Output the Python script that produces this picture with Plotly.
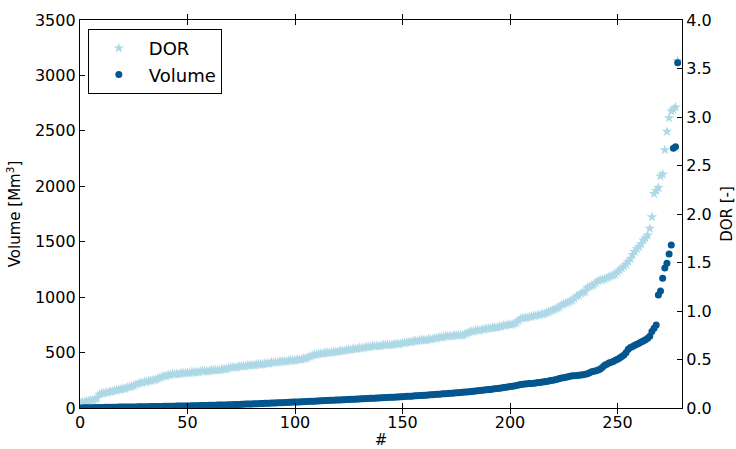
import plotly.graph_objects as go

dor = [
    0.05, 0.06, 0.06, 0.07, 0.07, 0.08, 0.08, 0.09, 0.10, 0.14,
    0.15, 0.15, 0.16, 0.16, 0.17, 0.17, 0.18, 0.18, 0.19, 0.19,
    0.20, 0.20, 0.21, 0.22, 0.22, 0.23, 0.24, 0.25, 0.26, 0.26,
    0.27, 0.27, 0.28, 0.28, 0.29, 0.29, 0.30, 0.31, 0.32, 0.33,
    0.33, 0.34, 0.34, 0.35, 0.35, 0.35, 0.35, 0.36, 0.36, 0.36,
    0.36, 0.36, 0.37, 0.37, 0.37, 0.37, 0.38, 0.38, 0.38, 0.38,
    0.38, 0.39, 0.39, 0.39, 0.39, 0.39, 0.40, 0.40, 0.40, 0.41,
    0.42, 0.42, 0.42, 0.42, 0.43, 0.43, 0.43, 0.43, 0.44, 0.44,
    0.44, 0.44, 0.45, 0.45, 0.45, 0.45, 0.46, 0.46, 0.46, 0.47,
    0.47, 0.47, 0.47, 0.48, 0.48, 0.48, 0.48, 0.49, 0.49, 0.49,
    0.49, 0.50, 0.50, 0.50, 0.51, 0.51, 0.52, 0.53, 0.54, 0.55,
    0.55, 0.56, 0.56, 0.56, 0.57, 0.57, 0.57, 0.57, 0.58, 0.58,
    0.58, 0.59, 0.59, 0.59, 0.60, 0.60, 0.60, 0.61, 0.61, 0.61,
    0.62, 0.62, 0.62, 0.63, 0.63, 0.63, 0.64, 0.64, 0.64, 0.64,
    0.64, 0.65, 0.65, 0.65, 0.65, 0.65, 0.66, 0.66, 0.66, 0.66,
    0.67, 0.67, 0.68, 0.68, 0.68, 0.69, 0.69, 0.69, 0.70, 0.70,
    0.70, 0.70, 0.71, 0.71, 0.71, 0.72, 0.72, 0.73, 0.73, 0.73,
    0.74, 0.74, 0.74, 0.74, 0.75, 0.75, 0.75, 0.75, 0.75, 0.76,
    0.77, 0.78, 0.79, 0.79, 0.80, 0.80, 0.80, 0.81, 0.81, 0.82,
    0.82, 0.82, 0.83, 0.83, 0.83, 0.84, 0.84, 0.85, 0.85, 0.86,
    0.86, 0.86, 0.87, 0.88, 0.90, 0.92, 0.93, 0.93, 0.93, 0.94,
    0.94, 0.95, 0.95, 0.96, 0.96, 0.97, 0.97, 0.98, 0.99, 1.00,
    1.01, 1.02, 1.03, 1.04, 1.06, 1.07, 1.08, 1.09, 1.10, 1.11,
    1.13, 1.15, 1.16, 1.18, 1.19, 1.20, 1.24, 1.25, 1.26, 1.27,
    1.29, 1.31, 1.32, 1.32, 1.33, 1.34, 1.35, 1.36, 1.37, 1.38,
    1.40, 1.42, 1.44, 1.46, 1.48, 1.51, 1.54, 1.58, 1.61, 1.64,
    1.66, 1.69, 1.73, 1.75, 1.78, 1.85, 1.97, 2.21, 2.24, 2.27,
    2.39, 2.41, 2.66, 2.85, 2.99, 3.06, 3.08, 3.10, 3.58,
]

volume = [
    1, 1, 2, 2, 3, 3, 3, 4, 4, 5,
    5, 5, 6, 6, 6, 7, 7, 7, 8, 8,
    8, 9, 9, 9, 10, 10, 10, 11, 11, 11,
    12, 12, 12, 13, 13, 13, 14, 14, 14, 15,
    15, 15, 16, 16, 16, 17, 17, 17, 18, 18,
    19, 19, 20, 20, 21, 21, 22, 22, 23, 23,
    24, 24, 25, 25, 26, 26, 27, 28, 28, 29,
    30, 30, 31, 32, 32, 33, 34, 35, 35, 36,
    37, 38, 38, 39, 40, 41, 42, 42, 43, 44,
    45, 46, 47, 47, 48, 49, 50, 51, 52, 53,
    53, 54, 55, 56, 57, 58, 59, 60, 61, 62,
    63, 64, 65, 66, 67, 68, 69, 70, 71, 72,
    72, 73, 74, 75, 76, 77, 78, 79, 80, 81,
    82, 83, 84, 85, 86, 87, 88, 89, 90, 91,
    92, 93, 94, 95, 96, 97, 98, 99, 100, 101,
    102, 103, 105, 106, 107, 108, 110, 111, 112, 113,
    115, 116, 118, 119, 120, 122, 123, 125, 126, 128,
    129, 131, 132, 134, 135, 137, 138, 140, 142, 144,
    145, 147, 149, 151, 153, 155, 157, 159, 162, 164,
    166, 168, 171, 173, 176, 178, 181, 184, 187, 190,
    193, 196, 199, 203, 208, 212, 214, 216, 218, 220,
    222, 224, 226, 229, 231, 234, 237, 240, 243, 247,
    251, 255, 260, 266, 270, 274, 278, 283, 287, 290,
    292, 294, 296, 298, 300, 304, 310, 318, 326, 332,
    337, 343, 352, 368, 385, 395, 405, 412, 420, 430,
    440, 452, 465, 478, 500, 530, 545, 555, 565, 575,
    585, 595, 605, 615, 630, 648, 690, 720, 749, 1019,
    1055, 1170, 1263, 1305, 1389, 1470, 2342, 2357, 3115,
]

index = list(range(len(volume)))

x_ticks = [0, 50, 100, 150, 200, 250]
vol_ticks = [0, 500, 1000, 1500, 2000, 2500, 3000, 3500]
dor_ticks = [0.0, 0.5, 1.0, 1.5, 2.0, 2.5, 3.0, 3.5, 4.0]

FONT = "DejaVu Sans"
LIGHT = "#add8e6"
DARK = "#04568e"

fig = go.Figure()
fig.add_trace(go.Scatter(
    x=index, y=dor, mode="markers", name="DOR", yaxis="y",
    marker=dict(symbol="star", size=8, color=LIGHT, line=dict(width=0)),
))
fig.add_trace(go.Scatter(
    x=index, y=volume, mode="markers", name="Volume", yaxis="y2",
    marker=dict(symbol="circle", size=7, color=DARK, line=dict(width=0)),
))

axis_common = dict(
    showline=True, linecolor="black", linewidth=1.3,
    ticks="inside", ticklen=5, tickwidth=1, tickcolor="black",
    showgrid=False, zeroline=False, automargin=False,
    tickfont=dict(family=FONT, size=16, color="black"),
)

fig.update_layout(
    width=736, height=449,
    margin=dict(l=80, r=54, t=20, b=41),
    paper_bgcolor="white", plot_bgcolor="white",
    font=dict(family=FONT, color="black"),
    xaxis=dict(
        range=[0, 280], tickvals=x_ticks, mirror="allticks",
        title=dict(text="#", font=dict(family=FONT, size=15), standoff=12),
        **axis_common,
    ),
    yaxis=dict(
        range=[0, 4.0], tickvals=dor_ticks, tickformat=".1f", side="right",
        title=dict(text="DOR [-]", font=dict(family=FONT, size=15), standoff=14),
        **axis_common,
    ),
    yaxis2=dict(
        range=[0, 3500], tickvals=vol_ticks, side="left", overlaying="y",
        title=dict(text="Volume [Mm<sup>3</sup>]", font=dict(family=FONT, size=15), standoff=10),
        **axis_common,
    ),
    legend=dict(
        x=0.013, y=0.977, xanchor="left", yanchor="top",
        bgcolor="white", bordercolor="black", borderwidth=1,
        font=dict(family=FONT, size=18, color="black"),
        itemsizing="trace", itemwidth=50,
    ),
    showlegend=True,
)

fig.write_html("out.html")
